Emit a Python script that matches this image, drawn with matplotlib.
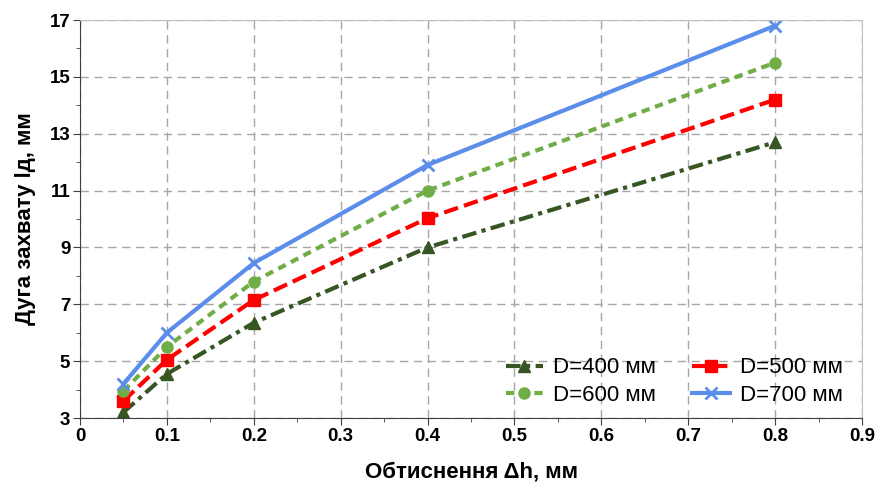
import matplotlib
matplotlib.use("Agg")
import matplotlib.pyplot as plt
from matplotlib.ticker import MultipleLocator, FixedLocator

plt.rcParams['font.family'] = ['Liberation Sans', 'DejaVu Sans']

dh = [0.05, 0.1, 0.2, 0.4, 0.8]
d400 = [3.2, 4.55, 6.35, 9.0, 12.7]
d500 = [3.6, 5.05, 7.15, 10.03, 14.2]
d600 = [3.95, 5.5, 7.8, 11.0, 15.5]
d700 = [4.2, 6.0, 8.45, 11.9, 16.8]
labels = ["D=400 мм", "D=500 мм", "D=600 мм", "D=700 мм"]
xticks = [0, 0.1, 0.2, 0.3, 0.4, 0.5, 0.6, 0.7, 0.8, 0.9]
yticks = [3, 5, 7, 9, 11, 13, 15, 17]

fig = plt.figure(figsize=(8.78, 4.86), dpi=100)
ax = fig.add_axes([0.0911, 0.1399, 0.8907, 0.8189])

lw = 3
h400, = ax.plot(dh, d400, color="#375623", lw=lw, ls=(0, (3.5, 1.3, 1, 1.3)),
                marker="^", ms=8, label=labels[0])
h500, = ax.plot(dh, d500, color="#FF0000", lw=lw, ls=(0, (3.5, 1.5)),
                marker="s", ms=8, label=labels[1])
h600, = ax.plot(dh, d600, color="#70AD47", lw=lw, ls=(0, (2, 1.4)),
                marker="o", ms=8, label=labels[2])
h700, = ax.plot(dh, d700, color="#5B8DEB", lw=lw, ls="-", marker="x",
                ms=9, mew=2, label=labels[3])

ax.set_xlim(0, 0.9)
ax.set_ylim(3, 17)
ax.xaxis.set_major_locator(FixedLocator(xticks))
ax.xaxis.set_minor_locator(MultipleLocator(0.05))
ax.yaxis.set_major_locator(FixedLocator(yticks))
ax.yaxis.set_minor_locator(MultipleLocator(1))
ax.set_xticklabels([f"{v:g}" for v in xticks])
ax.set_yticklabels([f"{v:g}" for v in yticks])
ax.grid(True, which="major", color="#A6A6A6", ls=(0, (6, 4)), lw=1)
ax.set_axisbelow(True)

for s in ["top", "right"]:
    ax.spines[s].set_color("#BFBFBF")
for s in ["left", "bottom"]:
    ax.spines[s].set_color("#404040")
ax.tick_params(which="both", direction="out", colors="#404040")
ax.tick_params(which="major", length=5, labelsize=13.5, labelcolor="black",
               pad=2)
ax.tick_params(which="minor", length=3)
for t in ax.get_xticklabels() + ax.get_yticklabels():
    t.set_fontweight("bold")

ax.set_xlabel("Обтиснення Δh, мм", fontsize=16, fontweight="bold", labelpad=12)
ax.set_ylabel("Дуга захвату lд, мм", fontsize=16, fontweight="bold", labelpad=10)

ax.legend([h400, h600, h500, h700],
          [labels[0], labels[2], labels[1], labels[3]],
          loc="lower right", ncol=2, frameon=False, fontsize=16,
          handlelength=1.7, handletextpad=0.45, columnspacing=1.6,
          labelspacing=0.3, borderpad=0, borderaxespad=0,
          bbox_to_anchor=(0.975, 0.03))

fig.savefig("out.png", dpi=100)
